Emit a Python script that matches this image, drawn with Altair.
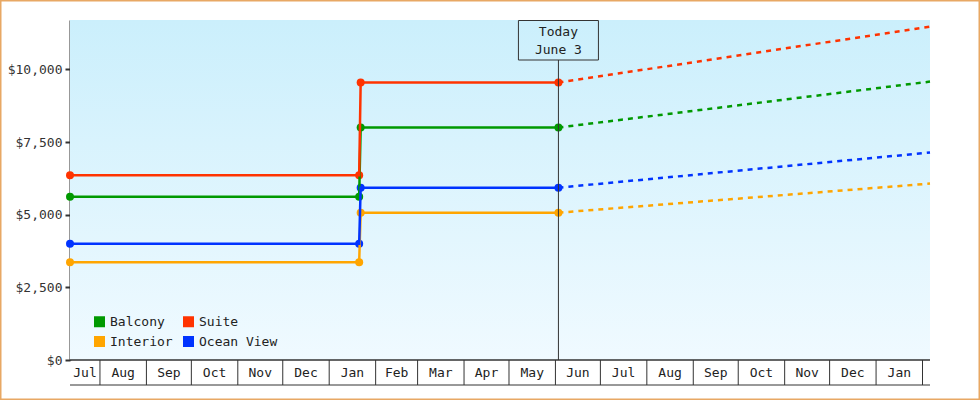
import altair as alt
import pandas as pd

# ---------------- data ----------------
# order chosen so the two-column legend reads: Balcony, Suite / Interior, Ocean View
series = ["Balcony", "Interior", "Suite", "Ocean View"]
colors = ["#009900", "#FFA500", "#FF3300", "#0033FF"]

start_date = "2022-07-12"
jump_before_date = "2023-01-21"
jump_after_date = "2023-01-22"
today_date = "2023-06-03"
end_date = "2024-02-06"

price_before = [5620, 3360, 6360, 4000]
price_after = [8000, 5070, 9550, 5930]
price_forecast_end = [9580, 6070, 11470, 7140]

y_ticks = [0, 2500, 5000, 7500, 10000]
y_max = 11700
today_label = ["Today", "June 3"]

FONT = "DejaVu Sans Mono"
INK = "#333333"


def iso(d):
    return pd.Timestamp(d).strftime("%Y-%m-%dT%H:%M:%SZ")


hist_rows, fc_rows = [], []
for s, b, a, e in zip(series, price_before, price_after, price_forecast_end):
    for d, v in [(start_date, b), (jump_before_date, b), (jump_after_date, a), (today_date, a)]:
        hist_rows.append({"series": s, "date": iso(d), "price": v})
    for d, v in [(today_date, a), (end_date, e)]:
        fc_rows.append({"series": s, "date": iso(d), "price": v})
hist = pd.DataFrame(hist_rows)
fc = pd.DataFrame(fc_rows)

# month boundaries / labels derived from the domain
d0, d1 = pd.Timestamp(start_date), pd.Timestamp(end_date)
month_starts = pd.date_range(d0.to_period("M").to_timestamp(), d1, freq="MS")
ticks = pd.DataFrame({"date": [iso(m) for m in month_starts if m > d0]})
lab_rows = []
for m in month_starts:
    a = max(m, d0)
    b = min(m + pd.offsets.MonthBegin(1), d1)
    if (b - a).days >= 15:
        lab_rows.append({"date": iso(a + (b - a) / 2), "label": m.strftime("%b")})
labels = pd.DataFrame(lab_rows)
today_df = pd.DataFrame({"date": [iso(today_date)]})
one = pd.DataFrame({"k": [0]})

W, H = 860, 340

xscale = alt.Scale(
    type="utc",
    domain=[alt.DateTime(year=2022, month=7, date=12, utc=True),
            alt.DateTime(year=2024, month=2, date=6, utc=True)],
)
yscale = alt.Scale(domain=[0, y_max], nice=False)
cscale = alt.Scale(domain=series, range=colors)
X = alt.X("date:T", scale=xscale, axis=None)

legend = alt.Legend(
    title=None, orient="none", legendX=23, legendY=295, columns=2,
    symbolType="square", symbolSize=121, symbolStrokeWidth=0,
    labelFont=FONT, labelFontSize=13, labelColor="#222222",
    columnPadding=9, rowPadding=6, labelOffset=4, padding=0,
)
C = alt.Color("series:N", scale=cscale, legend=legend)

bg = alt.Chart(one).mark_rect(
    fill=alt.Gradient(
        gradient="linear",
        stops=[alt.GradientStop(color="#CBEFFC", offset=0),
               alt.GradientStop(color="#F0FAFF", offset=1)],
        x1=0, x2=0, y1=0, y2=1,
    )
).encode(x=alt.value(0), x2=alt.value(W), y=alt.value(0), y2=alt.value(H))

border = alt.Chart(one).mark_rect(
    fill="transparent", stroke="#E8A864", strokeWidth=1.5
).encode(x=alt.value(-69.25), x2=alt.value(909.25), y=alt.value(-19.25), y2=alt.value(379.25))

tick_rules = alt.Chart(ticks).mark_rule(color=INK, strokeWidth=1).encode(
    x=X, y=alt.value(H), y2=alt.value(H + 25)
)
bottom_line = alt.Chart(one).mark_rule(color=INK, strokeWidth=1).encode(
    x=alt.value(0), x2=alt.value(W), y=alt.value(H + 25)
)
base_line = alt.Chart(one).mark_rule(color=INK, strokeWidth=1.5).encode(
    x=alt.value(0), x2=alt.value(W), y=alt.value(H)
)
month_text = alt.Chart(labels).mark_text(
    font=FONT, fontSize=13, color="#222222", baseline="middle", align="center"
).encode(x=X, y=alt.value(H + 13), text="label:N")

Y = alt.Y(
    "price:Q", scale=yscale, title=None,
    axis=alt.Axis(values=y_ticks, format="$,.0f", tickSize=5, tickWidth=2,
                  domainWidth=2, domainColor=INK, tickColor=INK, grid=False,
                  labelFont=FONT, labelFontSize=13, labelColor=INK, labelPadding=3),
)

pts = alt.Chart(hist).mark_circle(size=64, opacity=1).encode(x=X, y=Y, color=C)
hist_line = alt.Chart(hist).mark_line(strokeWidth=2.5).encode(x=X, y=Y, color=C)
fc_line = alt.Chart(fc).mark_line(strokeWidth=2.5, strokeDash=[5, 5]).encode(x=X, y=Y, color=C)

today_rule = alt.Chart(today_df).mark_rule(color=INK, strokeWidth=1).encode(
    x=X, y=alt.value(40), y2=alt.value(H)
)
today_box = alt.Chart(today_df).mark_rect(
    fill="transparent", stroke=INK, strokeWidth=1, xOffset=-40, x2Offset=40
).encode(x=X, x2=alt.X2("date:T"), y=alt.value(0.5), y2=alt.value(40))
today_text = alt.Chart(today_df).mark_text(
    text=today_label, font=FONT, fontSize=13, color="#222222",
    align="center", baseline="middle", lineHeight=18,
).encode(x=X, y=alt.value(12))

chart = alt.layer(
    bg, border, tick_rules, bottom_line, base_line, month_text,
    pts, hist_line, fc_line, today_rule, today_box, today_text,
).properties(
    width=W, height=H,
    autosize=alt.AutoSizeParams(type="none"),
    padding={"left": 70, "top": 20, "right": 50, "bottom": 40},
    background="white",
).configure_view(stroke=None)

chart.save("out.html", embed_options={"renderer": "svg", "actions": False})
